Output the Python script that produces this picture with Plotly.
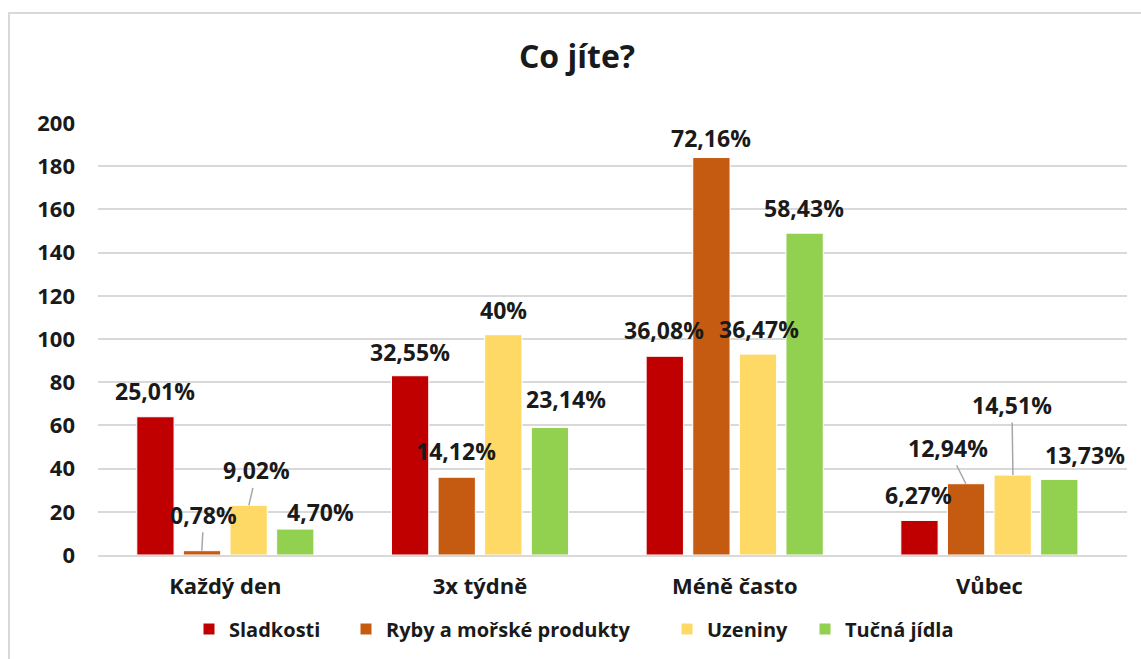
import plotly.graph_objects as go

# ---- data ----
categories = ["Každý den", "3x týdně", "Méně často", "Vůbec"]
series_names = ["Sladkosti", "Ryby a mořské produkty", "Uzeniny", "Tučná jídla"]
sladkosti = [64, 83, 92, 16]
ryby = [2, 36, 184, 33]
uzeniny = [23, 102, 93, 37]
tucna = [12, 59, 149, 35]
sladkosti_lbl = ["25,01%", "32,55%", "36,08%", "6,27%"]
ryby_lbl = ["0,78%", "14,12%", "72,16%", "12,94%"]
uzeniny_lbl = ["9,02%", "40%", "36,47%", "14,51%"]
tucna_lbl = ["4,70%", "23,14%", "58,43%", "13,73%"]
y_ticks = [0, 20, 40, 60, 80, 100, 120, 140, 160, 180, 200]

values = [sladkosti, ryby, uzeniny, tucna]
labels = [sladkosti_lbl, ryby_lbl, uzeniny_lbl, tucna_lbl]
colors = ["#C00000", "#C55A11", "#FFD966", "#92D050"]
legend_widths = [112, 276, 93, None]

# ---- layout geometry (px) ----
W, H = 1141, 659
ML, MR, MT, MB = 98, 14, 123, 104
PW = W - ML - MR
PH = H - MT - MB
BARGAP = 0.268
BARGROUPGAP = 0.2
cat_px = PW / len(categories)
slot_px = cat_px * (1 - BARGAP) / len(values)

# label placement (dx, dy in px relative to bar top centre, leader line flag)
placement = [
    [(0, -26, False), (1, -24, False), (0, -26, False), (0, -25, False)],
    [(2, -36, True), (0, -26, False), (0, -20, False), (-18, -36, True)],
    [(8, -35, True), (0, -25, False), (1, -25, False), (-1, -70, True)],
    [(25, -17, False), (15, -29, False), (-1, -25, False), (25, -24, False)],
]

FONT = "Open Sans"
TXT = "#1a1a1a"

fig = go.Figure()
for i, (name, vals, col) in enumerate(zip(series_names, values, colors)):
    kw = {}
    if legend_widths[i]:
        kw["legendwidth"] = legend_widths[i]
    fig.add_trace(go.Bar(
        x=categories, y=vals, name=name,
        marker=dict(color=col, line=dict(color="white", width=1)),
        hoverinfo="x+y+name", **kw,
    ))

annotations = []
for i, (vals, lbls) in enumerate(zip(values, labels)):
    off = (i - (len(values) - 1) / 2) * slot_px
    for j, (cat, v, t) in enumerate(zip(categories, vals, lbls)):
        dx, dy, arrow = placement[i][j]
        if arrow:
            annotations.append(dict(
                x=cat, y=v, xref="x", yref="y", text=t, xshift=off,
                showarrow=True, ax=dx, ay=dy, arrowhead=0, arrowwidth=1.5,
                arrowcolor="#A6A6A6", standoff=0,
                font=dict(family=FONT, size=23, color=TXT, weight="bold"),
            ))
        else:
            annotations.append(dict(
                x=cat, y=v, xref="x", yref="y", text=t,
                xshift=off + dx, yshift=-dy, showarrow=False,
                font=dict(family=FONT, size=23, color=TXT, weight="bold"),
            ))

# frame
fx0 = (9 - ML) / PW
fy1 = (H - MB - 13) / PH

fig.update_layout(
    width=W, height=H,
    margin=dict(l=ML, r=MR, t=MT, b=MB, autoexpand=False),
    paper_bgcolor="white", plot_bgcolor="white",
    barmode="group", bargap=BARGAP, bargroupgap=BARGROUPGAP,
    title=dict(text="Co jíte?", x=(577 - ML) / PW, xref="paper", xanchor="center",
               y=1 - 57 / H, yanchor="middle",
               font=dict(family=FONT, size=32, color=TXT, weight="bold")),
    font=dict(family=FONT, color=TXT),
    showlegend=True,
    legend=dict(orientation="h", x=(189 - ML) / PW, xanchor="left",
                y=-(629 - (H - MB)) / PH, yanchor="middle",
                font=dict(family=FONT, size=20, color=TXT, weight="bold"),
                itemclick=False, traceorder="normal"),
    annotations=annotations,
    shapes=[dict(type="rect", xref="paper", yref="paper",
                 x0=fx0, x1=1.2, y0=-0.5, y1=fy1,
                 line=dict(color="#D9D9D9", width=2), fillcolor="rgba(0,0,0,0)",
                 layer="below")],
)
fig.update_yaxes(range=[0, 200], tickvals=y_ticks, showgrid=True,
                 gridcolor="#D9D9D9", gridwidth=1.5, zeroline=False,
                 showline=False, ticks="", ticklabelstandoff=22, automargin=False,
                 tickfont=dict(family=FONT, size=22, color=TXT, weight="bold"))
fig.update_xaxes(showline=True, linecolor="#D9D9D9", linewidth=1.5, ticks="",
                 ticklabelstandoff=11, automargin=False,
                 tickfont=dict(family=FONT, size=22, color=TXT, weight="bold"))

fig.write_html("out.html")
